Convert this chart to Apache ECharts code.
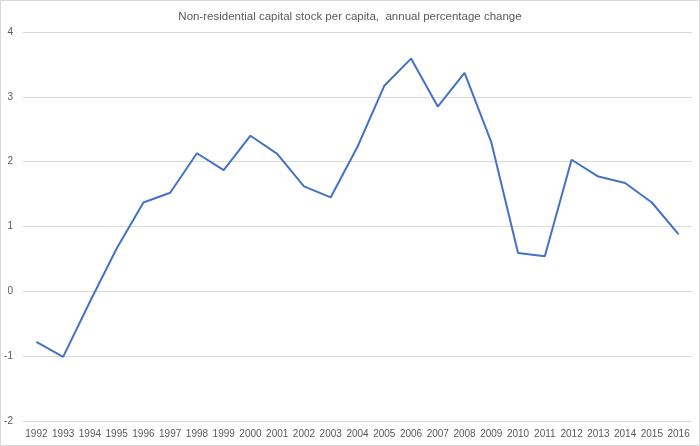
<!DOCTYPE html>
<html><head><meta charset="utf-8">
<script src="https://cdn.jsdelivr.net/npm/echarts@6/dist/echarts.min.js"></script>
<style>html,body{margin:0;padding:0;background:#fff}#c{width:700px;height:446px}</style>
</head><body><div id="c"></div>
<script>
const titleText = "Non-residential capital stock per capita,  annual percentage change";
const years = ["1992","1993","1994","1995","1996","1997","1998","1999","2000","2001","2002","2003","2004","2005","2006","2007","2008","2009","2010","2011","2012","2013","2014","2015","2016"];
const values = [-0.78,-1.01,-0.16,0.66,1.37,1.52,2.13,1.87,2.40,2.12,1.62,1.45,2.23,3.17,3.59,2.85,3.37,2.30,0.59,0.54,2.03,1.77,1.67,1.37,0.88];

const chart = echarts.init(document.getElementById('c'), null, {renderer:'canvas'});
chart.setOption({
  animation:false,
  backgroundColor:'#fff',
  title:{text:titleText,left:'center',top:6,textStyle:{fontFamily:'Liberation Sans',fontSize:11.5,fontWeight:'normal',color:'#595959'}},
  grid:{left:23,right:8,top:32,bottom:25,containLabel:false},
  xAxis:{type:'category',data:years,boundaryGap:true,
    axisLine:{show:true,lineStyle:{color:'#d9d9d9'}},axisTick:{show:false},
    axisLabel:{color:'#595959',fontFamily:'Liberation Sans',fontSize:10,margin:8,interval:0}},
  yAxis:{type:'value',min:-2,max:4,interval:1,
    axisLine:{show:false},axisTick:{show:false},
    splitLine:{lineStyle:{color:'#d9d9d9',width:1}},
    axisLabel:{color:'#595959',fontFamily:'Liberation Sans',fontSize:10,margin:10}},
  graphic:[{type:'rect',shape:{x:0.5,y:0.5,width:699,height:445},style:{fill:'none',stroke:'#d9d9d9',lineWidth:1},silent:true}],
  series:[{type:'line',data:values,symbol:'none',lineStyle:{color:'#4472C4',width:2},itemStyle:{color:'#4472C4'}}]
});
</script></body></html>
